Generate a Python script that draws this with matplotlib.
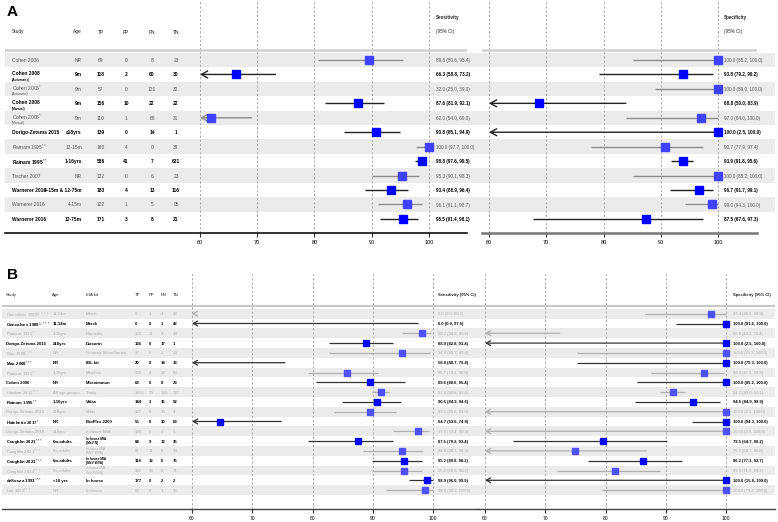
import matplotlib
matplotlib.use("Agg")
import matplotlib.pyplot as plt

plt.rcParams['font.family'] = ['Liberation Sans', 'DejaVu Sans']
plt.rcParams['mathtext.fontset'] = 'dejavusans'

# ---------------- Panel A data ----------------
a_study = ["Cohen 2006", "Cohen 2008", "Cohen 2006$^{*}$", "Cohen 2008", "Cohen 2006$^{*}$",
           "Dorigo-Zetsma 2015", "Ratnam 1995$^{**}$", "Ratnam 1995$^{**}$", "Tischer 2007",
           "Warnerer 2016", "Warnerer 2016", "Warnerer 2016"]
a_sub = ["", "(Automatic)", "(Automatic)", "(Manual)", "(Manual)", "", "", "", "", "", "", ""]
a_age = ["NR", "9m", "9m", "9m", "9m", "\u226518yrs", "12-15m", "1-16yrs", "NR",
         "4-15m & 12-75m", "4-15m", "12-75m"]
a_tp = [69, 118, 57, 156, 110, 139, 160, 586, 122, 183, 122, 171]
a_fp = [0, 2, 0, 10, 1, 0, 4, 41, 0, 4, 1, 3]
a_fn = [8, 60, 121, 22, 68, 14, 0, 7, 6, 13, 5, 8]
a_tn = [23, 30, 32, 22, 31, 1, 39, 631, 23, 116, 95, 21]
a_sens = [89.6, 66.3, 32.0, 87.6, 62.0, 90.8, 100.0, 98.8, 95.3, 93.4, 96.1, 95.5]
a_sens_lo = [80.6, 58.8, 25.0, 81.9, 54.0, 85.1, 97.7, 97.6, 90.1, 88.9, 91.1, 91.4]
a_sens_hi = [95.4, 73.2, 39.0, 92.1, 69.0, 94.9, 100.0, 99.5, 98.3, 96.4, 98.7, 98.1]
a_spec = [100.0, 93.8, 100.0, 68.8, 97.0, 100.0, 90.7, 93.9, 100.0, 96.7, 99.0, 87.5]
a_spec_lo = [85.2, 79.2, 89.0, 50.0, 84.0, 2.5, 77.9, 91.8, 85.2, 91.7, 94.3, 67.6]
a_spec_hi = [100.0, 99.2, 100.0, 83.9, 100.0, 100.0, 97.4, 95.6, 100.0, 99.1, 100.0, 97.3]

# ---------------- Panel B data ----------------
b_study = ["Goncalves 1989$^{1,***}$", "Goncalves 1989$^{1,***}$", "Ratnam 1995$^{**}$",
           "Dorigo-Zetsma 2015", "Mao 2008$^{***}$", "Mao 2008$^{***}$", "Ratnam 1995$^{**}$",
           "Cohen 2006", "Hawken 2011$^{***}$", "Ratnam 1995$^{**}$", "Dorigo-Zetsma 2015",
           "Hatchette 2017$^{*}$", "Dorigo-Zetsma 2015", "Coughlin 2021$^{***}$",
           "Coughlin 2021$^{***}$", "Coughlin 2021$^{***}$", "Coughlin 2021$^{***}$",
           "deSouza 1991$^{***}$", "Lee 1999$^{***}$"]
b_age = ["11-14m", "11-14m", "1-16yrs", "\u226518yrs", "NR", "NR", "1-16yrs", "NR",
         "All age groups", "1-16yrs", "\u226518yrs", "NR", "\u226518yrs", "6m-adults",
         "6m-adults", "6m-adults", "6m-adults", "<18 yrs", "NR"]
b_kit = ["Merck", "Merck", "Diamedix", "Diasorin", "Genesis Virion/Serion", "IBL kit",
         "Meridian", "Microimmun", "Trinity", "Vidas", "Vidas", "BioPlex 2200", "In house MIA",
         "In house MIA\n(MeV N)", "In house MIA\n(MeV WVA)", "In house MIA\n(MeV WVA)",
         "In house MIA\n(MeV WVA)", "In house", "In house"]
b_tp = [0, 0, 165, 136, 37, 20, 132, 69, 1413, 144, 137, 55, 149, 84, 91, 118, 118, 177, 68]
b_fp = [1, 0, 21, 0, 0, 0, 2, 0, 70, 3, 0, 0, 0, 9, 11, 12, 16, 0, 0]
b_fn = [4, 1, 3, 17, 2, 14, 22, 8, 135, 15, 16, 30, 4, 12, 5, 6, 6, 2, 1]
b_tn = [38, 42, 38, 1, 13, 13, 53, 23, 727, 52, 1, 63, 1, 35, 33, 75, 71, 2, 16]
b_sens = [0.0, 0.0, 98.2, 88.9, 94.9, 58.8, 85.7, 89.6, 91.3, 90.6, 89.5, 64.7, 97.4,
          87.5, 94.8, 95.2, 95.2, 98.9, 98.6]
b_sens_lo = [0.0, 0.0, 94.8, 82.8, 82.7, 40.7, 79.2, 80.6, 89.8, 84.9, 83.6, 53.6, 93.4,
             79.2, 88.3, 89.8, 89.8, 96.0, 92.2]
b_sens_hi = [60.2, 97.5, 99.6, 93.4, 99.4, 75.4, 90.8, 95.4, 92.6, 94.6, 93.9, 74.8, 99.3,
             93.4, 98.3, 98.2, 98.2, 99.9, 100.0]
b_spec = [97.4, 100.0, 56.8, 100.0, 100.0, 100.0, 96.4, 100.0, 91.2, 94.5, 100.0, 100.0,
          100.0, 79.5, 75.0, 86.2, 81.6, 100.0, 100.0]
b_spec_lo = [86.5, 91.6, 44.2, 2.5, 75.3, 75.3, 87.5, 85.2, 89.0, 84.9, 2.5, 94.3, 2.5,
             64.7, 59.7, 77.1, 71.9, 15.8, 79.4]
b_spec_hi = [99.9, 100.0, 72.4, 100.0, 100.0, 100.0, 99.6, 100.0, 93.1, 98.9, 100.0, 100.0,
             100.0, 90.2, 86.8, 92.7, 89.1, 100.0, 100.0]

ticks = [60, 70, 80, 90, 100]

W, H = 778, 522
fig = plt.figure(figsize=(W / 100, H / 100), dpi=100)


def px_axes(x0, x1, ytop, ybot):
    return fig.add_axes([x0 / W, 1 - ybot / H, (x1 - x0) / W, (ybot - ytop) / H])


def forest_axes(x0, x1, ytop, ybot, px_per_unit, x60, ylim, spine_c, spine_lw, fs):
    ax = px_axes(x0, x1, ytop, ybot)
    ax.set_xlim(60 - (x60 - x0) / px_per_unit, 60 + (x1 - x60) / px_per_unit)
    ax.set_ylim(ylim)
    ax.patch.set_alpha(0)
    for s in ['top', 'left', 'right']:
        ax.spines[s].set_visible(False)
    ax.spines['bottom'].set_color(spine_c)
    ax.spines['bottom'].set_linewidth(spine_lw)
    ax.set_yticks([])
    ax.set_xticks(ticks)
    ax.tick_params(axis='x', length=3, width=0.8, labelsize=fs, pad=2, color='#333333')
    for t in ticks:
        ax.axvline(t, color='#9a9a9a', lw=0.6, ls=(0, (2.5, 2.5)), zorder=1)
    return ax


def draw_ci(ax, y, est, lo, hi, ms, lw, line_c, sq_c, head):
    if hi < 60:
        return
    if lo < 60:
        ax.annotate("", xy=(60, y), xytext=(hi, y),
                    arrowprops=dict(arrowstyle="->,head_length=0.45,head_width=0.25",
                                    color=line_c, lw=lw, shrinkA=0, shrinkB=0,
                                    mutation_scale=head), zorder=3)
    else:
        ax.plot([lo, hi], [y, y], color=line_c, lw=lw, solid_capstyle='butt', zorder=3)
    if est >= 60:
        ax.plot(est, y, marker='s', ms=ms, color=sq_c, ls='none', zorder=4)


def ci_text(e, l, h):
    return f"{e:.1f} ({l:.1f}, {h:.1f})"


# =============== Panel A ===============
A_Y0, A_DY, A_TOP, A_BOT = 60, 14.45, 0, 233
ry = lambda py: (py - A_Y0) / A_DY
a_ylim = (ry(A_BOT), ry(A_TOP))

bg = px_axes(5, 775, A_TOP, A_BOT)
bg.set_xlim(5, 775)
bg.set_ylim(a_ylim)
bg.axis('off')
for i in range(0, len(a_study), 2):
    bg.axhspan(i - 0.5, i + 0.5, color='#ebebeb', lw=0, zorder=0)

fig.text(7 / W, 1 - 12 / H, "A", fontsize=11, fontweight='bold', va='center')

fs = 3.5
fci = 3.3
hdr_y = ry(32)
for x, lab, ha in [(12, "Study", 'left'), (82, "Age", 'right'), (101, "TP", 'center'),
                   (126, "FP", 'center'), (152, "FN", 'center'), (176, "TN", 'center')]:
    bg.text(x, hdr_y, lab, fontsize=fs, ha=ha, va='center', color='#222222')
bg.text(436, ry(18), "Sensitivity", fontsize=fci, va='center', color='#222222', fontweight='bold')
bg.text(436, ry(32), "(95% CI)", fontsize=fci, va='center', color='#222222')
bg.text(724, ry(17), "Specificity", fontsize=fci, va='center', color='#222222', fontweight='bold')
bg.text(724, ry(32), "(95% CI)", fontsize=fci, va='center', color='#222222')

sens_a = forest_axes(5, 467, A_TOP, A_BOT, 5.725, 200, a_ylim, '#111111', 1.2, 4.0)
spec_a = forest_axes(482, 757, A_TOP, A_BOT, 5.725, 489, a_ylim, '#777777', 1.8, 4.0)
for ax in (sens_a, spec_a):
    ax.axhline(ry(50), color='#cfcfcf', lw=1.8, zorder=2)

for i in range(len(a_study)):
    strong = i % 2 == 1
    tc = 'black' if strong else '#555555'
    fw = 'bold' if strong else 'normal'
    if a_sub[i]:
        bg.text(12, i - 0.12, a_study[i], fontsize=fs, color=tc, fontweight=fw, va='center_baseline')
        bg.text(12, i + 0.38, a_sub[i], fontsize=2.3, color=tc, fontweight=fw, va='center')
    else:
        bg.text(12, i, a_study[i], fontsize=fs, color=tc, fontweight=fw, va='center_baseline')
    bg.text(82, i, a_age[i], fontsize=fs, color=tc, fontweight=fw, ha='right', va='center_baseline')
    for x, v in [(101, a_tp[i]), (126, a_fp[i]), (152, a_fn[i]), (176, a_tn[i])]:
        bg.text(x, i, str(v), fontsize=fs, color=tc, fontweight=fw, ha='center', va='center_baseline')
    bg.text(436, i, ci_text(a_sens[i], a_sens_lo[i], a_sens_hi[i]), fontsize=fci,
            color=tc, fontweight=fw, va='center_baseline')
    bg.text(724, i, ci_text(a_spec[i], a_spec_lo[i], a_spec_hi[i]), fontsize=fci,
            color=tc, fontweight=fw, va='center_baseline')
    lc = '#222222' if strong else '#8c8c8c'
    sq = '#0000ff' if strong else '#4040ff'
    ms = 6.3 if strong else 5.6
    draw_ci(sens_a, i, a_sens[i], a_sens_lo[i], a_sens_hi[i], ms, 1.0, lc, sq, 10)
    draw_ci(spec_a, i, a_spec[i], a_spec_lo[i], a_spec_hi[i], ms, 1.0, lc, sq, 10)

# =============== Panel B ===============
B_Y0, B_DY, B_TOP, B_BOT = 313.7, 9.8, 274, 509
rb = lambda py: (py - B_Y0) / B_DY
b_ylim = (rb(B_BOT), rb(B_TOP))

bgb = px_axes(2, 775, B_TOP, B_BOT)
bgb.set_xlim(2, 775)
bgb.set_ylim(b_ylim)
bgb.axis('off')
for i in range(0, len(b_study), 2):
    bgb.axhspan(i - 0.5, i + 0.5, color='#ebebeb', lw=0, zorder=0)

fig.text(7 / W, 1 - 275 / H, "B", fontsize=11, fontweight='bold', va='center')

fsb = 3.1
fcib = 3.0
hb = rb(295)
for x, lab in [(6, "Study"), (52, "Age"), (86, "EIA kit"), (135, "TP"), (149, "FP"),
               (161, "FN"), (173, "TN")]:
    bgb.text(x, hb, lab, fontsize=fsb, va='center', color='#222222')
bgb.text(438, hb, "Sensitivity (95% CI)", fontsize=fcib, va='center', color='#222222', fontweight='bold')
bgb.text(733, hb, "Specificity (95% CI)", fontsize=fcib, va='center', color='#222222', fontweight='bold')

sens_b = forest_axes(2, 478, B_TOP, B_BOT, 6.03, 192, b_ylim, '#444444', 1.0, 3.6)
spec_b = forest_axes(478, 775, B_TOP, B_BOT, 6.03, 485, b_ylim, '#444444', 1.0, 3.6)
for ax in (sens_b, spec_b):
    ax.axhline(rb(306), color='#c8c8c8', lw=1.5, zorder=2)

for i in range(len(b_study)):
    strong = i % 2 == 1
    tc = 'black' if strong else '#ababab'
    fw = 'bold' if strong else 'normal'
    bgb.text(6, i, b_study[i], fontsize=fsb, color=tc, fontweight=fw, va='center_baseline')
    bgb.text(53, i, b_age[i], fontsize=fsb, color=tc, fontweight=fw, va='center_baseline')
    if "\n" in b_kit[i]:
        bgb.text(86, i, b_kit[i], fontsize=2.3, color=tc, fontweight=fw, va='center', linespacing=1.1)
    else:
        bgb.text(86, i, b_kit[i], fontsize=fsb, color=tc, fontweight=fw, va='center_baseline')
    for x, v in [(135, b_tp[i]), (149, b_fp[i]), (161, b_fn[i]), (173, b_tn[i])]:
        bgb.text(x, i, str(v), fontsize=fsb, color=tc, fontweight=fw, va='center_baseline')
    bgb.text(438, i, ci_text(b_sens[i], b_sens_lo[i], b_sens_hi[i]), fontsize=fcib,
             color=tc, fontweight=fw, va='center_baseline')
    bgb.text(733, i, ci_text(b_spec[i], b_spec_lo[i], b_spec_hi[i]), fontsize=fcib,
             color=tc, fontweight=fw, va='center_baseline')
    lc = '#333333' if strong else '#b0b0b0'
    sq = '#0000ff' if strong else '#5050ff'
    ms = 5.0 if strong else 4.2
    draw_ci(sens_b, i, b_sens[i], b_sens_lo[i], b_sens_hi[i], ms, 0.9, lc, sq, 7)
    draw_ci(spec_b, i, b_spec[i], b_spec_lo[i], b_spec_hi[i], ms, 0.9, lc, sq, 7)

fig.savefig("out.png", dpi=100)
